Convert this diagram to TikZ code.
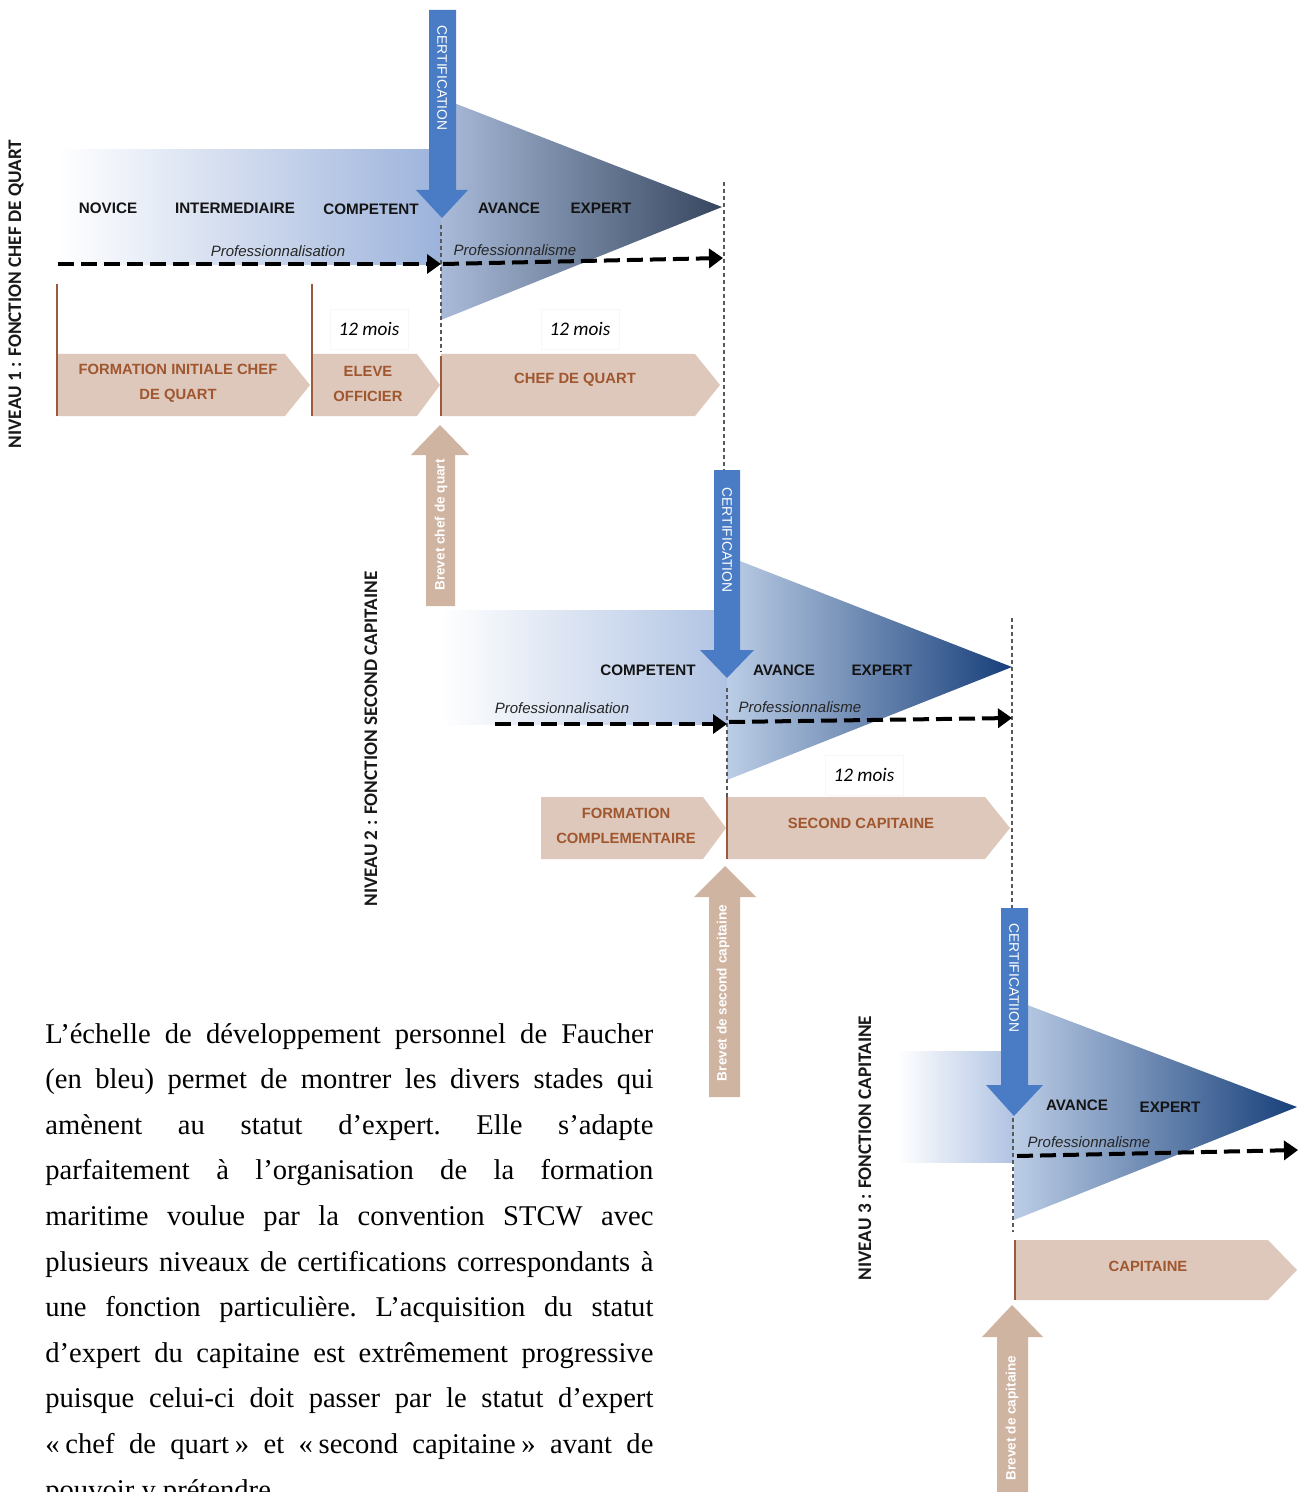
\documentclass[tikz,border=0pt]{standalone}
\usepackage{fontspec}
\usepackage{graphicx}
\setmainfont{Liberation Serif}
\newfontfamily\sansf{Liberation Sans}
\newfontfamily\calf{Carlito}
\usetikzlibrary{arrows.meta}

\definecolor{bandA}{HTML}{9DB3DB}
\definecolor{bandB}{HTML}{B0C3E3}
\definecolor{coneAl}{HTML}{A9BBD9}
\definecolor{coneAr}{HTML}{36465F}
\definecolor{coneBl}{HTML}{BCCDE6}
\definecolor{coneBr}{HTML}{173F7A}
\definecolor{certblue}{HTML}{4A7CC6}
\definecolor{chevfill}{HTML}{DDC8BB}
\definecolor{brevfill}{HTML}{D0B4A2}
\definecolor{chevtxt}{HTML}{A0562E}
\definecolor{tickbrown}{HTML}{9C5A3C}

\hbadness=10000

\begin{document}
\begin{tikzpicture}[x=0.5pt,y=-0.5pt,
  stage/.style={font=\sansf\bfseries\fontsize{7.6}{9}\selectfont, text=black!92, inner sep=0},
  proc/.style={font=\sansf\itshape\fontsize{7.5}{9}\selectfont, text=black!85, inner sep=0},
  dur/.style={font=\calf\itshape\fontsize{9.6}{11}\selectfont, fill=white, draw=black!3,
              minimum width=39pt, minimum height=20pt, inner sep=0},
  chevtext/.style={font=\sansf\bfseries\fontsize{7.4}{12.5}\selectfont, text=chevtxt,
                   align=center, inner sep=0},
  certtext/.style={font=\sansf\fontsize{6.9}{8}\selectfont, text=white, rotate=-90, inner sep=0},
  brevtext/.style={font=\sansf\bfseries\fontsize{6.8}{8}\selectfont, text=white, rotate=90, inner sep=0},
  niveau/.style={font=\calf\bfseries\fontsize{9.6}{11}\selectfont, text=black!90, rotate=90, inner sep=0},
  flow/.style={line width=2pt, dash pattern=on 8pt off 3.5pt, -{Triangle[length=7pt,width=9.5pt]}},
  guide/.style={line width=0.55pt, black!65, dash pattern=on 2pt off 1.5pt},
  tick/.style={line width=0.9pt, tickbrown},
  chev/.style={fill=chevfill},
  brev/.style={fill=brevfill},
  cert/.style={fill=certblue}
]
\clip (0,0) rectangle (1298,1492);
\fill[white] (0,0) rectangle (1298,1492);

% ===================== Level 1 : chef de quart =====================
\shade[left color=white, right color=bandA] (58,150) rectangle (441,265);
\shade[left color=coneAl, right color=coneAr] (441,98) -- (441,320) -- (722,207) -- cycle;

\draw[guide] (441,225) -- (441,352);
\draw[guide] (724,182) -- (724,470);

\coordinate (f1a) at (58,264);
\coordinate (f1b) at (441,264);
\coordinate (f1c) at (443,264);
\coordinate (f1d) at (723,258);
\draw[flow] (f1a) -- (f1b);
\draw[flow] (f1c) -- (f1d);

\node[stage] (novice) at (108,208) {NOVICE};
\node[stage] (inter)  at (235,208) {INTERMEDIAIRE};
\node[stage] (comp1)  at (371,209) {COMPETENT};
\node[stage] (av1)    at (509,208) {AVANCE};
\node[stage] (ex1)    at (601,208) {EXPERT};
\node[proc] (pn1) at (278,251) {Professionnalisation};
\node[proc] (pm1) at (515,250) {Professionnalisme};

\fill[cert] (429,10) -- (456,10) -- (456,190) -- (468,190) -- (442,218)
            -- (416,190) -- (429,190) -- cycle;
\node[certtext] (cert1) at (442,78) {CERTIFICATION};

\node[dur] (d1) at (369,329) {12 mois};
\node[dur] (d2) at (580,329) {12 mois};

\fill[chev] (58,354) -- (285,354) -- (310,385) -- (285,416) -- (58,416) -- cycle;
\fill[chev] (312,354) -- (417,354) -- (440,385) -- (417,416) -- (312,416) -- cycle;
\fill[chev] (441,354) -- (695,354) -- (720,385) -- (695,416) -- (441,416) -- cycle;
\draw[tick] (57,284) -- (57,416);
\draw[tick] (312,284) -- (312,416);
\draw[tick] (441,356) -- (441,416);
\node[chevtext] (fi) at (178,383) {FORMATION INITIALE CHEF\\DE QUART};
\node[chevtext] (eo) at (368,384) {ELEVE\\OFFICIER};
\node[chevtext] (cq) at (575,380) {CHEF DE QUART};

\fill[brev] (426,606) -- (426,455) -- (411,455) -- (440,425) -- (469,455)
            -- (455,455) -- (455,606) -- cycle;
\node[brevtext] (b1) at (441,525) {Brevet chef de quart};

\node[niveau] (n1) at (16,294) {NIVEAU 1 : FONCTION CHEF DE QUART};

% ===================== Level 2 : second capitaine =====================
\shade[left color=white, right color=bandB] (440,610) rectangle (727,724);
\shade[left color=coneBl, right color=coneBr] (727,556) -- (727,780) -- (1012,667) -- cycle;

\draw[guide] (727,688) -- (727,797);
\draw[guide] (1012,618) -- (1012,908);

\coordinate (f2a) at (495,724);
\coordinate (f2b) at (727,724);
\coordinate (f2c) at (729,722);
\coordinate (f2d) at (1012,718);
\draw[flow] (f2a) -- (f2b);
\draw[flow] (f2c) -- (f2d);

\node[stage] (comp2) at (648,670) {COMPETENT};
\node[stage] (av2)   at (784,670) {AVANCE};
\node[stage] (ex2)   at (882,670) {EXPERT};
\node[proc] (pn2) at (562,708) {Professionnalisation};
\node[proc] (pm2) at (800,707) {Professionnalisme};

\fill[cert] (714,470) -- (740,470) -- (740,650) -- (754,650) -- (727,678)
            -- (700,650) -- (714,650) -- cycle;
\node[certtext] (cert2) at (727,540) {CERTIFICATION};

\node[dur] (d3) at (864,775) {12 mois};

\fill[chev] (541,797) -- (703,797) -- (726,828) -- (703,859) -- (541,859) -- cycle;
\fill[chev] (728,797) -- (985,797) -- (1010,828) -- (985,859) -- (728,859) -- cycle;
\draw[tick] (727,797) -- (727,859);
\node[chevtext] (fc) at (626,826) {FORMATION\\COMPLEMENTAIRE};
\node[chevtext] (sc) at (861,823) {SECOND CAPITAINE};

\fill[brev] (709,1097) -- (709,897) -- (694,897) -- (725,866) -- (756,897)
            -- (740,897) -- (740,1097) -- cycle;
\node[brevtext] (b2) at (723,993) {Brevet de second capitaine};

\node[niveau] (n2) at (371,739) {NIVEAU 2 : FONCTION SECOND CAPITAINE};

% ===================== Level 3 : capitaine =====================
\shade[left color=white, right color=bandB] (898,1051) rectangle (1014,1162);
\shade[left color=coneBl, right color=coneBr] (1014,1000) -- (1014,1220) -- (1297,1107) -- cycle;

\draw[guide] (1013,1118) -- (1013,1232);

\coordinate (f3a) at (1017,1156);
\coordinate (f3b) at (1298,1150);
\draw[flow] (f3a) -- (f3b);

\node[stage] (av3) at (1077,1105) {AVANCE};
\node[stage] (ex3) at (1170,1107) {EXPERT};
\node[proc] (pm3) at (1089,1142) {Professionnalisme};

\fill[cert] (1001,908) -- (1028,908) -- (1028,1085) -- (1043,1085) -- (1014,1116)
            -- (986,1085) -- (1001,1085) -- cycle;
\node[certtext] (cert3) at (1014,978) {CERTIFICATIION};

\fill[chev] (1016,1240) -- (1268,1240) -- (1297,1270) -- (1268,1300) -- (1016,1300) -- cycle;
\draw[tick] (1015,1240) -- (1015,1300);
\node[chevtext] (cap) at (1148,1266) {CAPITAINE};

\fill[brev] (997,1510) -- (997,1337) -- (982,1337) -- (1012,1305) -- (1043,1337)
            -- (1028,1337) -- (1028,1510) -- cycle;
\node[brevtext] (b3) at (1012,1418) {Brevet de capitaine};

\node[niveau] (n3) at (865,1148) {NIVEAU 3 : FONCTION CAPITAINE};

% ===================== Commentary =====================
\node[anchor=base west, inner sep=0] (para) at (45,1043) {%
  \parbox[t]{304pt}{\fontsize{14.3}{22.8}\selectfont\frenchspacing
  \parindent=0pt\relax \tolerance=10000\relax \parfillskip=0pt plus 1fil\relax
  L’échelle de développement personnel de Faucher\linebreak
  (en bleu) permet de montrer les divers stades qui\linebreak
  amènent au statut d’expert. Elle s’adapte\linebreak
  parfaitement à l’organisation de la formation\linebreak
  maritime voulue par la convention STCW avec\linebreak
  plusieurs niveaux de certifications correspondants à\linebreak
  une fonction particulière. L’acquisition du statut\linebreak
  d’expert du capitaine est extrêmement progressive\linebreak
  puisque celui-ci doit passer par le statut d’expert\linebreak
  «\kern0.2em chef de quart\kern0.2em» et «\kern0.2em second capitaine\kern0.2em» avant de\linebreak
  pouvoir y prétendre.}};
\end{tikzpicture}
\end{document}
